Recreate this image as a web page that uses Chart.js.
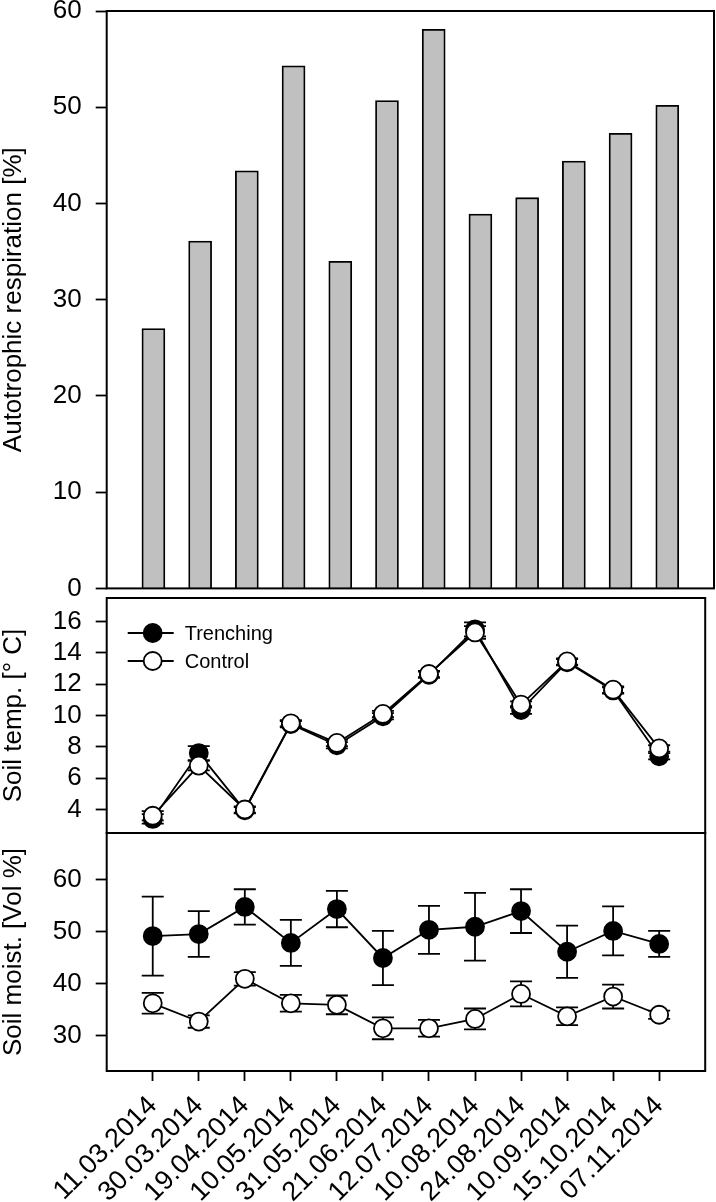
<!DOCTYPE html>
<html>
<head>
<meta charset="utf-8">
<script src="https://cdn.jsdelivr.net/npm/chart.js@4/dist/chart.umd.min.js"></script>
<style>
body { margin: 0; background: #fff; width: 716px; height: 1202px; position: relative; overflow: hidden; }
canvas { position: absolute; left: 0; }
</style>
</head>
<body>
<canvas id="chart-resp" width="716" height="637" style="top:-19px"></canvas>
<canvas id="chart-temp" width="716" height="295" style="top:568px"></canvas>
<canvas id="chart-moist" width="716" height="399" style="top:803px"></canvas>
<script>
var dates = ['11.03.2014', '30.03.2014', '19.04.2014', '10.05.2014', '31.05.2014', '21.06.2014',
             '12.07.2014', '10.08.2014', '24.08.2014', '10.09.2014', '15.10.2014', '07.11.2014'];

var autoResp = [27.0, 36.1, 43.4, 54.3, 34.0, 50.7, 58.1, 38.9, 40.6, 44.4, 47.3, 50.2];

var tempTrench     = [3.4, 7.6, 3.95, 9.45, 8.1, 9.95, 12.6, 15.5, 10.35, 13.4, 11.6, 7.4];
var tempTrenchErr  = [0.3, 0.45, 0.2, 0.2, 0.2, 0.2, 0.2, 0.45, 0.25, 0.2, 0.2, 0.2];
var tempControl    = [3.6, 6.8, 4.0, 9.5, 8.25, 10.1, 12.65, 15.3, 10.7, 13.45, 11.65, 7.9];
var tempControlErr = [0.3, 0.3, 0.2, 0.2, 0.2, 0.2, 0.2, 0.4, 0.2, 0.2, 0.2, 0.2];

var moistTrench     = [49.1, 49.5, 54.7, 47.8, 54.3, 44.9, 50.3, 50.9, 53.9, 46.1, 50.1, 47.6];
var moistTrenchErr  = [7.6, 4.4, 3.4, 4.4, 3.5, 5.2, 4.6, 6.5, 4.2, 5.0, 4.7, 2.5];
var moistControl    = [36.2, 32.7, 40.9, 36.2, 35.9, 31.4, 31.4, 33.2, 38.0, 33.7, 37.5, 34.0];
var moistControlErr = [2.0, 1.2, 1.3, 1.6, 1.8, 2.1, 1.6, 2.0, 2.4, 1.7, 2.3, 0.8];

var respTicks = [0, 10, 20, 30, 40, 50, 60];
var tempTicks = [4, 6, 8, 10, 12, 14, 16];
var moistTicks = [30, 40, 50, 60];

var FONT = '"Liberation Sans", Arial, sans-serif';

function pts(values) {
    return values.map((v, i) => ({ x: i + 1, y: v }));
}

// box round each panel
var framePlugin = {
    id: 'frame',
    afterDatasetsDraw(chart) {
        var a = chart.chartArea, ctx = chart.ctx;
        ctx.save();
        ctx.strokeStyle = '#000';
        ctx.lineWidth = 2;
        ctx.strokeRect(a.left, a.top, a.right - a.left, a.bottom - a.top);
        ctx.restore();
    }
};

// error bars, drawn under the lines and symbols
var errorBarPlugin = {
    id: 'errorBars',
    beforeDatasetsDraw(chart) {
        var ctx = chart.ctx, xs = chart.scales.x, ys = chart.scales.y;
        ctx.save();
        ctx.strokeStyle = '#000';
        ctx.lineWidth = 1.8;
        chart.data.datasets.forEach(ds => {
            if (!ds.errors) return;
            ds.data.forEach((p, i) => {
                var x = xs.getPixelForValue(p.x);
                var top = ys.getPixelForValue(p.y + ds.errors[i]);
                var bot = ys.getPixelForValue(p.y - ds.errors[i]);
                ctx.beginPath();
                ctx.moveTo(x, top); ctx.lineTo(x, bot);
                ctx.moveTo(x - 11, top); ctx.lineTo(x + 11, top);
                ctx.moveTo(x - 11, bot); ctx.lineTo(x + 11, bot);
                ctx.stroke();
            });
        });
        ctx.restore();
    }
};

// legend in the upper left corner of the temperature panel
var insideLegend = {
    id: 'insideLegend',
    afterDraw(chart) {
        var a = chart.chartArea, ctx = chart.ctx;
        ctx.save();
        ctx.font = '20px ' + FONT;
        ctx.textBaseline = 'middle';
        chart.data.datasets.forEach((ds, k) => {
            var y = a.top + 35 + k * 28;
            var x0 = a.left + 21;
            ctx.strokeStyle = '#000';
            ctx.lineWidth = 1.8;
            ctx.beginPath(); ctx.moveTo(x0, y); ctx.lineTo(x0 + 46, y); ctx.stroke();
            ctx.beginPath(); ctx.arc(x0 + 25, y, 9, 0, Math.PI * 2);
            ctx.fillStyle = ds.pointBackgroundColor; ctx.fill(); ctx.stroke();
            ctx.fillStyle = '#000';
            ctx.fillText(ds.label, x0 + 57, y + 1);
        });
        ctx.restore();
    }
};

function yAxis(title, min, max, ticks) {
    return {
        min: min,
        max: max,
        afterBuildTicks: s => { s.ticks = ticks.map(v => ({ value: v })); },
        afterFit: s => { s.width = 106.7; },
        border: { display: false },
        grid: { drawOnChartArea: false, tickLength: 11, tickWidth: 1.8, tickColor: '#000' },
        ticks: { color: '#000', padding: 14, font: { family: FONT, size: 26 } },
        title: { display: true, text: title, color: '#000', padding: 0, font: { family: FONT, size: 26, lineHeight: 1.1 } }
    };
}

var hiddenX = { type: 'linear', min: 0, max: 13, offset: false, display: false };

var common = {
    responsive: false,
    animation: false,
    events: [],
    plugins: { legend: { display: false }, tooltip: { enabled: false } }
};

function lineSet(label, values, errors, fill, order) {
    return {
        label: label,
        data: pts(values),
        errors: errors,
        order: order,
        borderColor: '#000',
        borderWidth: 1.8,
        pointRadius: 9,
        pointBorderWidth: 1.8,
        pointBorderColor: '#000',
        pointBackgroundColor: fill,
        tension: 0
    };
}

new Chart(document.getElementById('chart-resp').getContext('2d'), {
    type: 'bar',
    data: {
        datasets: [{
            label: 'Autotrophic respiration',
            data: pts(autoResp),
            backgroundColor: '#c0c0c0',
            borderColor: '#000',
            borderWidth: 1.8,
            barThickness: 23
        }]
    },
    options: Object.assign({}, common, {
        layout: { padding: { top: 30, bottom: 20, left: 0, right: 2 } },
        scales: { x: hiddenX, y: yAxis('Autotrophic respiration [%]', 0, 60, respTicks) }
    }),
    plugins: [framePlugin]
});

new Chart(document.getElementById('chart-temp').getContext('2d'), {
    type: 'line',
    data: {
        datasets: [
            lineSet('Trenching', tempTrench, tempTrenchErr, '#000', 2),
            lineSet('Control', tempControl, tempControlErr, '#fff', 1)
        ]
    },
    options: Object.assign({}, common, {
        layout: { padding: { top: 30, bottom: 30, left: 0, right: 2 } },
        scales: { x: hiddenX, y: yAxis('Soil temp. [\u00b0 C]', 2.5, 17.5, tempTicks) }
    }),
    plugins: [errorBarPlugin, framePlugin, insideLegend]
});

new Chart(document.getElementById('chart-moist').getContext('2d'), {
    type: 'line',
    data: {
        datasets: [
            lineSet('Trenching', moistTrench, moistTrenchErr, '#000', 2),
            lineSet('Control', moistControl, moistControlErr, '#fff', 1)
        ]
    },
    options: Object.assign({}, common, {
        layout: { padding: { top: 30, bottom: 0, left: 0, right: 2 } },
        scales: {
            x: {
                type: 'linear', min: 0, max: 13, offset: false,
                afterBuildTicks: s => { s.ticks = dates.map((d, i) => ({ value: i + 1 })); },
                afterFit: s => { s.height = 131; },
                border: { display: false },
                grid: { drawOnChartArea: false, tickLength: 10, tickWidth: 1.8, tickColor: '#000' },
                ticks: {
                    color: '#000', autoSkip: false, minRotation: 45, maxRotation: 45, padding: 9,
                    font: { family: FONT, size: 27 },
                    callback: v => dates[v - 1] || ''
                }
            },
            y: yAxis('Soil moist. [Vol %]', 23.2, 68.9, moistTicks)
        }
    }),
    plugins: [errorBarPlugin, framePlugin]
});
</script>
</body>
</html>
